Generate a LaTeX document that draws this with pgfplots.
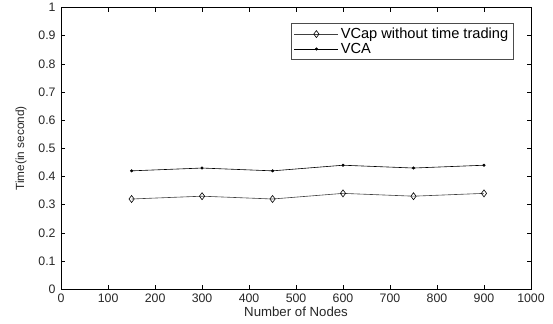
\documentclass[border=0pt]{standalone}
\usepackage{pgfplots}
\pgfplotsset{compat=1.18}
\usepackage{fontspec}
\setmainfont{Liberation Sans}
\begin{document}
\begin{tikzpicture}
\begin{axis}[
  scale only axis,
  width=469pt, height=281pt,
  xmin=0, xmax=1000, ymin=0, ymax=1,
  xtick={0,100,...,1000},
  ytick={0,0.1,...,1.0},
  yticklabels={0,0.1,0.2,0.3,0.4,0.5,0.6,0.7,0.8,0.9,1},
  tick align=inside,
  major tick length=4pt,
  tick style={black, line width=0.5pt},
  axis line style={line width=0.7pt},
  /pgf/number format/assume math mode=true,
  /pgf/number format/1000 sep={},
  tick label style={font=\fontsize{12.3}{14}\selectfont, color=black!85},
  yticklabel style={xshift=-2pt},
  xticklabel style={yshift=-1pt},
  xlabel={Number of Nodes},
  ylabel={Time(in second)},
  xlabel style={font=\fontsize{13.2}{15}\selectfont, at={(axis description cs:0.5,-0.082)}, anchor=center, color=black!85},
  ylabel style={font=\fontsize{11.8}{14}\selectfont, at={(axis description cs:-0.085,0.5)}, anchor=center, color=black!85},
  legend style={at={(axis description cs:0.489,0.944)}, anchor=north west,
    draw=black!70, font=\fontsize{14.6}{16}\selectfont, inner xsep=3pt, inner ysep=3pt,
    row sep=0pt, nodes={inner xsep=2pt, inner ysep=1.5pt}},
  legend cell align=left,
  legend image code/.code={%
    \draw[mark repeat=2,mark phase=2,#1] plot coordinates {(0pt,0pt)(22pt,0pt)(44pt,0pt)};},
]
\addplot[black!75, line width=0.6pt, mark=diamond, mark size=3.5pt, mark options={solid, fill=white, draw=black}]
  coordinates {(150,0.32) (300,0.33) (450,0.32) (600,0.34) (750,0.33) (900,0.34)};
\addlegendentry{VCap without time trading}
\addplot[black, line width=0.6pt, mark=*, mark size=1.2pt, mark options={fill=black}]
  coordinates {(150,0.42) (300,0.43) (450,0.42) (600,0.44) (750,0.43) (900,0.44)};
\addlegendentry{VCA}
\end{axis}
\useasboundingbox ([shift={(-61pt,-34pt)}]current axis.south west) rectangle ([shift={(22pt,7pt)}]current axis.north east);
\end{tikzpicture}
\end{document}
